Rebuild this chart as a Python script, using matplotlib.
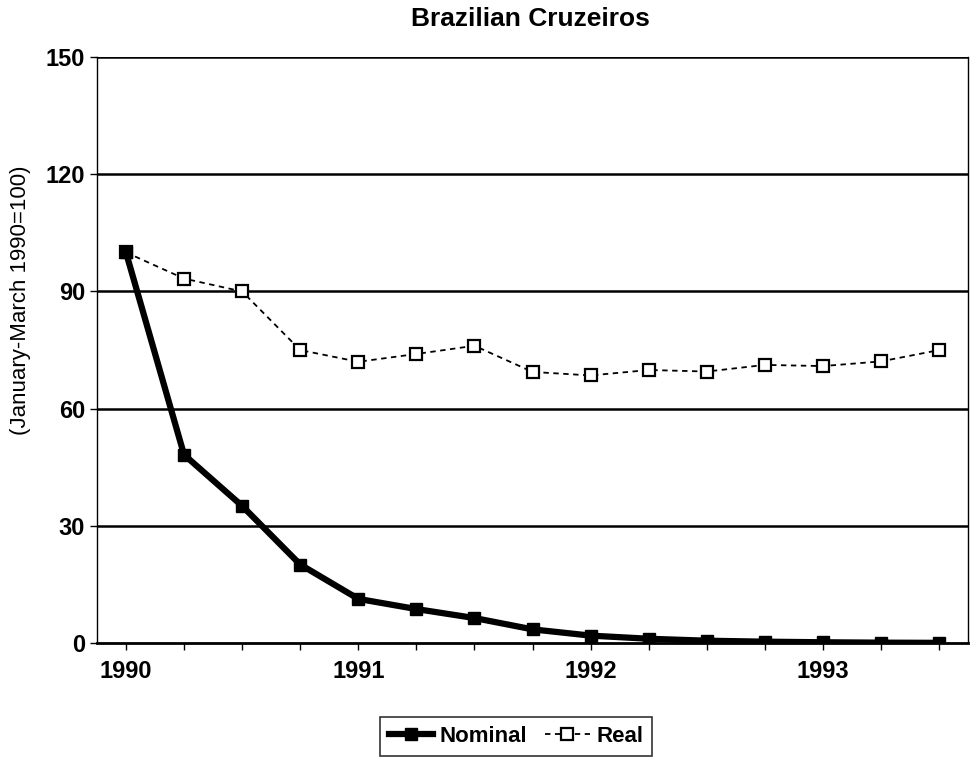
"""Brazilian Cruzeiros, nominal vs real index (Jan-Mar 1990 = 100), quarterly 1990-1993."""

import matplotlib

matplotlib.use("Agg")
import matplotlib.pyplot as plt

QUARTERS = ["1990Q1", "1990Q2", "1990Q3", "1990Q4",
            "1991Q1", "1991Q2", "1991Q3", "1991Q4",
            "1992Q1", "1992Q2", "1992Q3", "1992Q4",
            "1993Q1", "1993Q2", "1993Q3"]
NOMINAL = [100, 48.2, 35.1, 20.1, 11.3, 8.7, 6.4, 3.5, 1.9, 1.1, 0.6, 0.35, 0.2, 0.1, 0.05]
REAL = [100, 93.3, 90.0, 75.0, 72.0, 74.0, 76.1, 69.4, 68.5, 69.9, 69.5, 71.2, 70.9, 72.1, 75.0]
YEAR_LABELS = ["1990", "1991", "1992", "1993"]
Y_TICKS = [0, 30, 60, 90, 120, 150]

plt.rcParams["font.family"] = ["Liberation Sans", "DejaVu Sans"]


def main() -> None:
    fig = plt.figure(figsize=(9.79, 7.61), dpi=100)
    ax = fig.add_axes([0.099, 0.155, 0.89, 0.77])

    x = list(range(len(QUARTERS)))
    ax.plot(x, REAL, color="black", lw=1.3, ls=(0, (3, 2.5)), marker="s",
            ms=9, mfc="white", mec="black", mew=1.6, label="Real", zorder=3)
    ax.plot(x, NOMINAL, color="black", lw=4.5, marker="s", ms=9,
            mfc="black", mec="black", label="Nominal", zorder=4)

    for y in Y_TICKS[1:]:
        ax.axhline(y, color="black", lw=1.8, zorder=1)

    ax.set_ylim(0, 150)
    ax.set_xlim(-0.5, 14.5)
    ax.set_yticks(Y_TICKS)
    ax.set_xticks(x)
    ax.set_xticklabels([YEAR_LABELS[i // 4] if i % 4 == 0 else "" for i in x])
    ax.tick_params(axis="both", labelsize=17, direction="out", length=5, width=1)
    ax.tick_params(axis="x", pad=7)
    for lbl in ax.get_xticklabels() + ax.get_yticklabels():
        lbl.set_fontweight("bold")

    ax.spines["top"].set_visible(False)
    ax.spines["left"].set_linewidth(1.0)
    ax.spines["right"].set_linewidth(1.0)
    ax.spines["bottom"].set_linewidth(2.0)

    fig.text(0.542, 0.975, "Brazilian Cruzeiros", ha="center", va="center",
             fontsize=19, fontweight="bold")
    fig.text(0.021, 0.605, "(January-March 1990=100)", rotation=90,
             ha="center", va="center", fontsize=16)

    handles, labels = ax.get_legend_handles_labels()
    leg = fig.legend(handles[::-1], labels[::-1], loc="center",
                     bbox_to_anchor=(0.527, 0.032), ncol=2, fontsize=16,
                     frameon=True, fancybox=False, edgecolor="black",
                     handlelength=2.0, columnspacing=0.8, handletextpad=0.3,
                     borderpad=0.4)
    leg.get_frame().set_linewidth(1.2)
    for t in leg.get_texts():
        t.set_fontweight("bold")

    fig.savefig("out.png", dpi=100)


if __name__ == "__main__":
    main()
